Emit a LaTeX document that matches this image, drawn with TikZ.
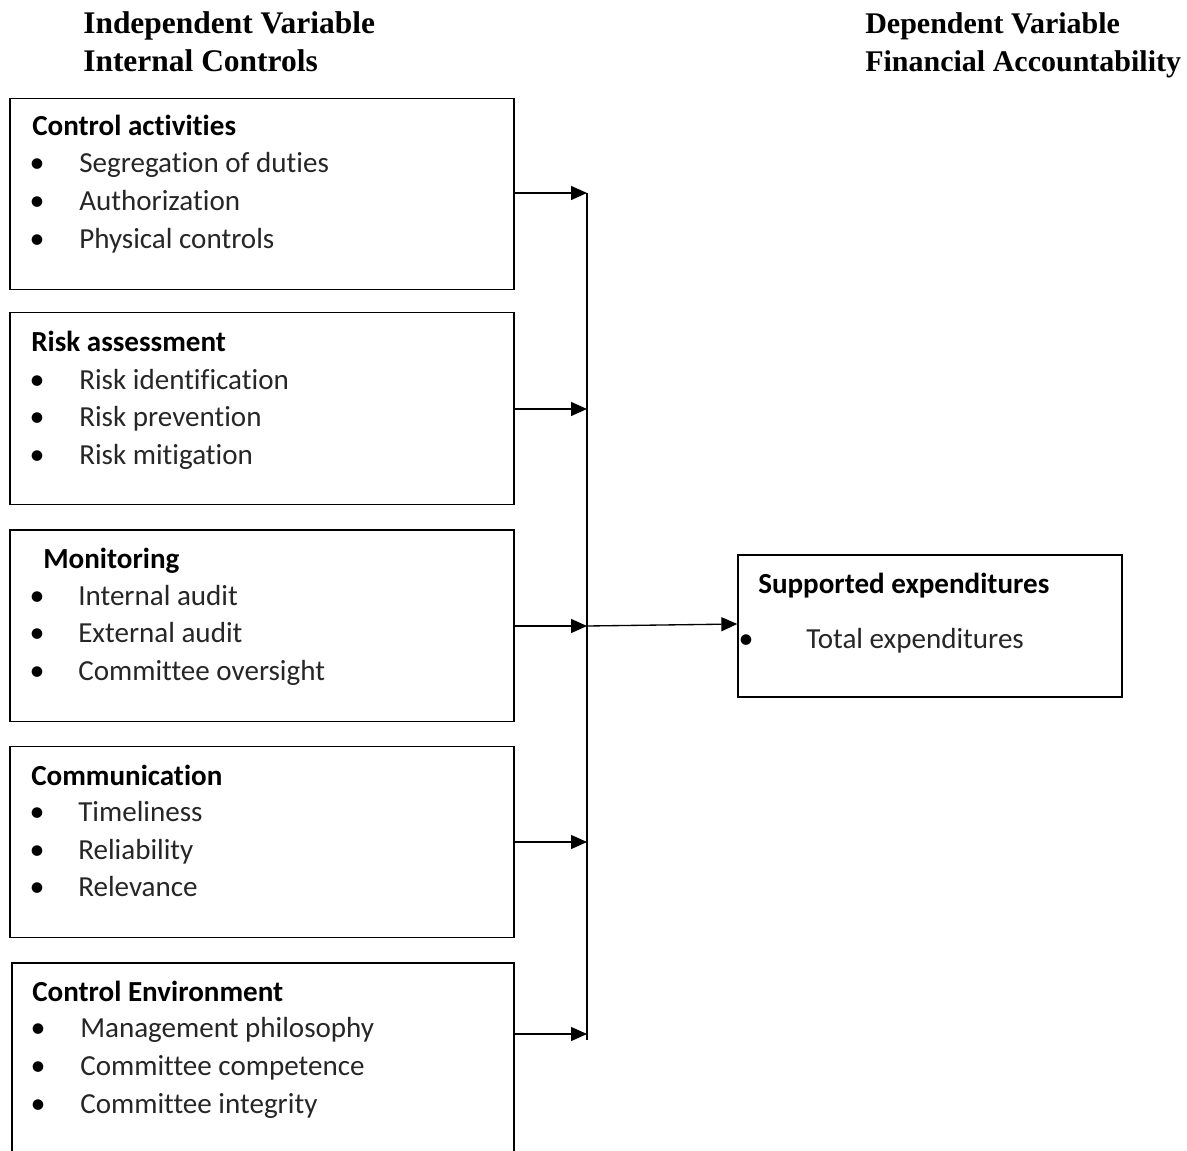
\documentclass[tikz,border=0pt]{standalone}
\usepackage{fontspec}
\setmainfont{Carlito}[Ligatures=CommonOff]
\newfontfamily\titlefont{Liberation Serif}
\usetikzlibrary{arrows.meta}
\begin{document}
\begin{tikzpicture}[x=0.75pt,y=-0.75pt,
  box/.style={draw=black, line width=1pt, inner sep=0pt, minimum width=378pt, minimum height=143.5pt},
  head/.style={anchor=base west, inner sep=0pt, font=\fontsize{21.8pt}{26pt}\selectfont\bfseries},
  itemtext/.style={anchor=base west, inner sep=0pt, text=black!85, font=\fontsize{21.8pt}{26pt}\selectfont},
  bul/.style={anchor=base, inner sep=0pt, font=\fontsize{22.5pt}{26pt}\selectfont},
  ttl/.style={anchor=base west, inner sep=0pt, font=\fontsize{23.6pt}{28pt}\selectfont\titlefont\bfseries},
  ttr/.style={anchor=base west, inner sep=0pt, font=\fontsize{22.5pt}{28pt}\selectfont\titlefont\bfseries},
  arr/.style={line width=1pt, -{Triangle[length=12pt,width=10.5pt]}},
  ln/.style={line width=1pt}]
\useasboundingbox (0,0) rectangle (1187,1151);
\clip (0,0) rectangle (1187,1151);

% titles
\node[ttl] (t1) at (83,34) {Independent Variable};
\node[ttl] (t2) at (83,72) {Internal Controls};
\node[ttr] (t3) at (865,34) {Dependent Variable};
\node[ttr] (t4) at (865,72) {Financial Accountability};

% boxes
\node[box] (b1) at (262,194) {};
\node[box] (b2) at (262,408.5) {};
\node[box] (b3) at (262,625.5) {};
\node[box] (b4) at (262,842) {};
\node[box, minimum width=376.5pt] (b5) at (263,1058.5) {};
\node[box, minimum width=288pt, minimum height=106.5pt] (rb) at (930,626) {};

% box 1
\node[head] (h1) at (32,136) {Control activities};
\foreach \yy/\tt in {173/Segregation of duties, 211/Authorization, 249/Physical controls}{
  \node[bul] (u1\yy) at (37,\yy) {•};
  \node[itemtext] (i1\yy) at (79,\yy) {\tt};
}
% box 2
\node[head] (h2) at (31,352) {Risk assessment};
\foreach \yy/\tt in {389/Risk identification, 426/Risk prevention, 464/Risk mitigation}{
  \node[bul] (u2\yy) at (37,\yy) {•};
  \node[itemtext] (i2\yy) at (79,\yy) {\tt};
}
% box 3
\node[head] (h3) at (43,568) {Monitoring};
\foreach \yy/\tt in {605/Internal audit, 642/External audit, 680/Committee oversight}{
  \node[bul] (u3\yy) at (37,\yy) {•};
  \node[itemtext] (i3\yy) at (78,\yy) {\tt};
}
% box 4
\node[head] (h4) at (31,785) {Communication};
\foreach \yy/\tt in {821/Timeliness, 859/Reliability, 896/Relevance}{
  \node[bul] (u4\yy) at (37,\yy) {•};
  \node[itemtext] (i4\yy) at (78,\yy) {\tt};
}
% box 5
\node[head] (h5) at (32,1001) {Control Environment};
\foreach \yy/\tt in {1037/Management philosophy, 1075/Committee competence, 1113/Committee integrity}{
  \node[bul] (u5\yy) at (38,\yy) {•};
  \node[itemtext] (i5\yy) at (80,\yy) {\tt};
}
% right box
\node[head] (h6) at (758,593) {Supported expenditures};
\node[bul] (u6) at (746,648) {•};
\node[itemtext] (i6) at (806,648) {Total expenditures};

% connectors
\coordinate (j1) at (587,193);
\coordinate (j2) at (587,409);
\coordinate (j3) at (587,626);
\coordinate (j4) at (587,842);
\coordinate (j5) at (587,1034);
\coordinate (jb) at (587,1040);
\draw[ln] (j1) -- (jb);
\draw[arr] (b1.east |- j1) -- (j1);
\draw[arr] (b2.east |- j2) -- (j2);
\draw[arr] (b3.east |- j3) -- (j3);
\draw[arr] (b4.east |- j4) -- (j4);
\draw[arr] (b5.east |- j5) -- (j5);
\draw[arr] (j3) -- ([yshift=1.5pt]rb.west);
\end{tikzpicture}
\end{document}
